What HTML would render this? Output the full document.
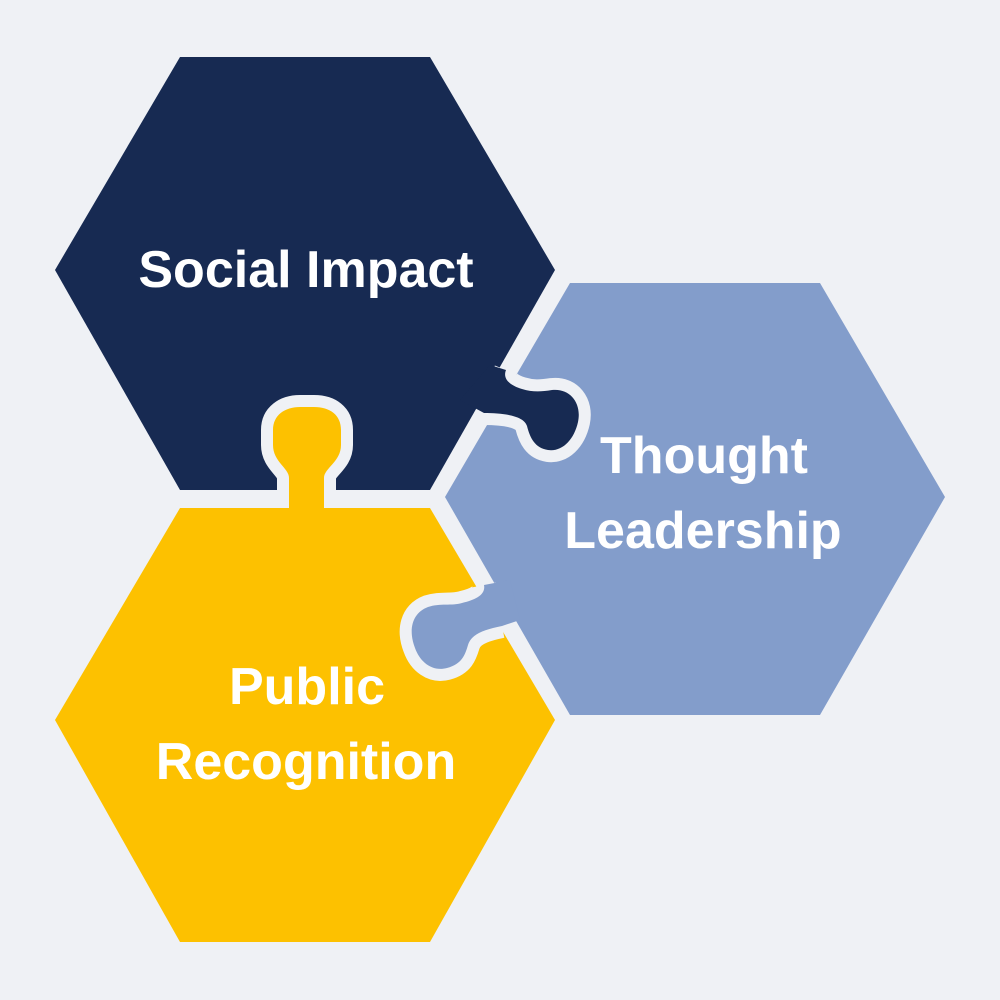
<!DOCTYPE html>
<html><head><style>html,body{margin:0;padding:0;background:#eff1f5;}svg{display:block}</style></head>
<body>
<svg width="1000" height="1000" viewBox="0 0 1000 1000" xmlns="http://www.w3.org/2000/svg">
<rect width="1000" height="1000" fill="#eff1f5"/>
<polygon points="55,270 180,57 430,57 555,270 430,490 180,490" fill="#172a52"/>
<polygon points="445,497 570,283 820,283 945,497 820,715 570,715" fill="#839dcb"/>
<polygon points="55,720 180,508 430,508 555,720 430,942 180,942" fill="#fdc100"/>

<path d="M 289,499 L 289,478 C 289,468 273,462 273,445 L 273,430 C 273,415 285,407 300,407 L 314,407 C 330,407 341,415 341,430 L 341,445 C 341,462 324,468 324,478 L 324,499" fill="none" stroke="#eff1f5" stroke-width="24"/>
<path d="M 289,499 L 289,478 C 289,468 273,462 273,445 L 273,430 C 273,415 285,407 300,407 L 314,407 C 330,407 341,415 341,430 L 341,445 C 341,462 324,468 324,478 L 324,499 L 324,520 L 289,520 Z" fill="#fdc100"/>

<path d="M 506,370 C 502,380 512,386 522,389 C 532,392 540,392 552,390 C 570,388 582,403 578,422 C 574,440 562,452 548,450 C 535,448 530,438 527,426 C 524,416 505,413 484,413" fill="none" stroke="#eff1f5" stroke-width="24"/>
<path d="M 506,370 C 502,380 512,386 522,389 C 532,392 540,392 552,390 C 570,388 582,403 578,422 C 574,440 562,452 548,450 C 535,448 530,438 527,426 C 524,416 505,413 484,413 L 460,400 L 490,365 Z" fill="#172a52"/>

<path d="M 484,585 C 486,595 475,600 462,603 C 452,606 440,603 428,607 C 412,613 408,630 415,648 C 420,662 432,672 447,668 C 462,664 465,655 468,645 C 471,635 482,630 502,626" fill="none" stroke="#eff1f5" stroke-width="24"/>
<path d="M 484,585 C 486,595 475,600 462,603 C 452,606 440,603 428,607 C 412,613 408,630 415,648 C 420,662 432,672 447,668 C 462,664 465,655 468,645 C 471,635 482,630 502,626 L 520,620 L 510,580 Z" fill="#839dcb"/>

<g font-family="Liberation Sans, sans-serif" font-weight="bold" font-size="52" fill="#ffffff" text-anchor="middle">
<text x="306" y="287">Social Impact</text>
<text x="704" y="473">Thought</text>
<text x="703" y="548">Leadership</text>
<text x="307" y="704">Public</text>
<text x="306" y="779">Recognition</text>
</g>
</svg>
</body></html>
